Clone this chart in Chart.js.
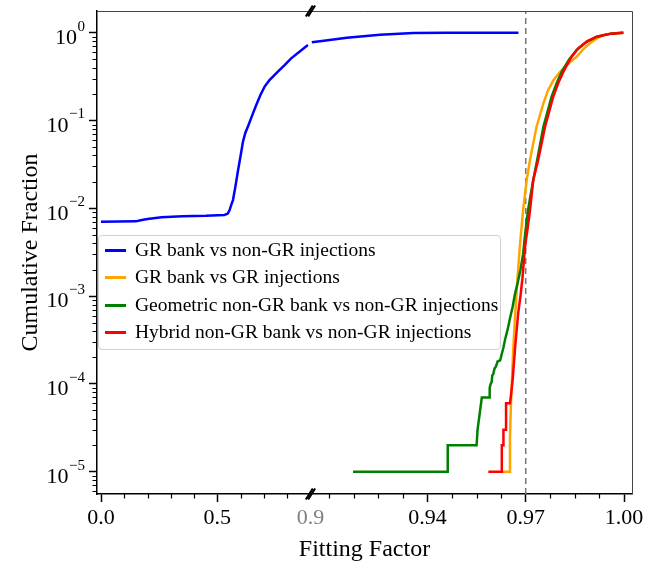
<!DOCTYPE html>
<html>
<head>
<meta charset="utf-8">
<script src="https://cdn.jsdelivr.net/npm/chart.js@4.4.1/dist/chart.umd.min.js"></script>
<style>
  html, body { margin: 0; padding: 0; background: #fff; }
  #wrap { position: relative; width: 659px; height: 565px; }
  #legend {
    position: absolute; left: 98px; top: 235px; width: 403px; height: 115px;
    box-sizing: border-box; border: 1px solid #cfcfcf; border-radius: 4px;
    background: rgba(255, 255, 255, 0.8);
    font-family: "Liberation Serif", "Times New Roman", serif; font-size: 19.5px; color: #000;
  }
  #legend .row { position: absolute; left: 0; height: 28px; line-height: 28px; white-space: nowrap; }
  #legend .swatch { position: absolute; left: 6px; top: 13px; width: 21px; height: 2.5px; }
  #legend .text { position: absolute; left: 36px; top: 0; }
</style>
</head>
<body>
<div id="wrap">
  <canvas id="chart" width="659" height="565"></canvas>
  <div id="legend"></div>
</div>
<script>
/* ── Data ── */
const SERIES_LABELS = [
  "GR bank vs non-GR injections",
  "GR bank vs GR injections",
  "Geometric non-GR bank vs non-GR injections",
  "Hybrid non-GR bank vs non-GR injections",
];

// GR bank vs non-GR injections (null = gap at the axis break)
const GR_NONGR_FF = [0, 0.15, 0.17, 0.2, 0.26, 0.35, 0.45, 0.53, 0.545, 0.553, 0.56, 0.567, 0.578, 0.589,
  0.6, 0.61, 0.62, 0.631, 0.65, 0.667, 0.685, 0.703, 0.724, 0.76, 0.79, 0.817, 0.85, 0.889,
  0.902, 0.9047, 0.9084, 0.9154, 0.9255, 0.9357, 0.9459, 0.955, 0.9678];
const GR_NONGR_CF = [0.00703, 0.0071, 0.0073, 0.00755, 0.0079, 0.0081, 0.0082, 0.0084, 0.0087, 0.0096, 0.011, 0.0124, 0.018, 0.0273,
  0.04, 0.0574, 0.072, 0.085, 0.115, 0.15, 0.195, 0.243, 0.289, 0.36, 0.43, 0.51, 0.6, 0.724,
  null, 0.778, 0.81, 0.877, 0.949, 0.99, 0.998, 1.0, 1.0];

// GR bank vs GR injections
const GR_GR_FF = [0.9627, 0.965, 0.9652, 0.9655, 0.9658, 0.9662, 0.9667, 0.9675, 0.9682, 0.9692, 0.9703, 0.9713,
  0.9733, 0.9754, 0.9768, 0.9784, 0.98, 0.9815, 0.9835, 0.9856, 0.9876, 0.9896, 0.9917, 0.9937, 0.996, 0.998, 0.9998];
const GR_GR_CF = [1e-5, 1e-5, 2.5e-5, 6e-5, 1.1e-4, 2.5e-4, 5.5e-4, 1.6e-3, 3.66e-3, 9.5e-3, 0.021, 0.0355,
  0.085, 0.157, 0.22, 0.285, 0.34, 0.393, 0.46, 0.533, 0.65, 0.757, 0.86, 0.94, 0.975, 0.993, 1.0];

// Geometric non-GR bank vs non-GR injections
const GEO_FF = [0.9173, 0.9462, 0.9462, 0.955, 0.9553, 0.9566, 0.9589, 0.959, 0.9593, 0.9596, 0.9598, 0.9601,
  0.9605, 0.9608, 0.9611, 0.9614, 0.9622, 0.9627, 0.9632, 0.9637, 0.9645, 0.9652, 0.966, 0.9667, 0.9676,
  0.9684, 0.9692, 0.9698, 0.9707, 0.9723, 0.9735, 0.9754, 0.9779, 0.9795, 0.981, 0.9833, 0.9856, 0.9885,
  0.9917, 0.996, 0.9998];
const GEO_CF = [1e-5, 1e-5, 2e-5, 2e-5, 3e-5, 7e-5, 7e-5, 9e-5, 1.0e-4, 1.05e-4, 1.25e-4, 1.3e-4,
  1.5e-4, 1.55e-4, 1.65e-4, 1.8e-4, 1.85e-4, 2.2e-4, 2.6e-4, 3.2e-4, 4.2e-4, 5.6e-4, 7.5e-4, 1.05e-3, 1.45e-3,
  2.0e-3, 3.0e-3, 5.0e-3, 9.5e-3, 0.021, 0.0355, 0.085, 0.187, 0.27, 0.36, 0.5, 0.635, 0.78,
  0.9, 0.975, 1.0];

// Hybrid non-GR bank vs non-GR injections
const HYB_FF = [0.9586, 0.9627, 0.9627, 0.9632, 0.9632, 0.964, 0.964, 0.9652, 0.9656, 0.966, 0.9668, 0.9677,
  0.9684, 0.969, 0.9698, 0.9706, 0.9713, 0.9723, 0.9738, 0.9759, 0.9784, 0.98, 0.9815, 0.9838, 0.986, 0.9888,
  0.9917, 0.996, 0.9998];
const HYB_CF = [1e-5, 1e-5, 2e-5, 2e-5, 3e-5, 3e-5, 6e-5, 6e-5, 8e-5, 1.1e-4, 2.7e-4, 6.4e-4,
  1.0e-3, 1.6e-3, 3.66e-3, 6e-3, 9.5e-3, 0.021, 0.0355, 0.085, 0.187, 0.27, 0.36, 0.52, 0.664, 0.8,
  0.9, 0.975, 1.0];

const THRESHOLD = 0.97;

const X_TICKS = [0.0, 0.5, 0.9, 0.94, 0.97, 1.0];
const X_TICK_LABELS = ["0.0", "0.5", "0.9", "0.94", "0.97", "1.00"];
const X_MINOR_TICKS = [0.1, 0.2, 0.3, 0.4, 0.6, 0.7, 0.8,
  0.91, 0.9175, 0.925, 0.9325, 0.9475, 0.955, 0.9625, 0.9775, 0.985, 0.9925];
const Y_EXPONENTS = [0, -1, -2, -3, -4, -5];

/* ── Axis limits / broken x axis ── */
const X_MIN = -0.0172, X_BREAK = 0.9, X_RESUME = 0.9043, X_MAX = 1.00244;
const BREAK_FRAC = 0.399;
const Y_MIN = 5.57e-6, Y_MAX = 1.766;

const FONT = '"Liberation Serif", "Times New Roman", serif';
const COLORS = { blue: "#0000ff", orange: "#ffa500", green: "#008000", red: "#ff0000", dash: "#777777" };

// linear scale with a gap: [X_MIN, X_BREAK] on the left, [X_RESUME, X_MAX] on the right
class BrokenLinearScale extends Chart.LinearScale {
  getPixelForValue(v) {
    if (v === null || v === undefined || isNaN(v)) return NaN;
    let f;
    if (v <= X_BREAK) f = (v - X_MIN) / (X_BREAK - X_MIN) * BREAK_FRAC;
    else if (v < X_RESUME) f = BREAK_FRAC;
    else f = BREAK_FRAC + (v - X_RESUME) / (X_MAX - X_RESUME) * (1 - BREAK_FRAC);
    return this.getPixelForDecimal(f);
  }
  getValueForPixel(p) {
    const f = this.getDecimalForPixel(p);
    if (f <= BREAK_FRAC) return X_MIN + f / BREAK_FRAC * (X_BREAK - X_MIN);
    return X_RESUME + (f - BREAK_FRAC) / (1 - BREAK_FRAC) * (X_MAX - X_RESUME);
  }
}
BrokenLinearScale.id = "brokenLinear";
BrokenLinearScale.defaults = Chart.LinearScale.defaults;
Chart.register(BrokenLinearScale);

const toPoints = (xs, ys) => xs.map((x, i) => ({ x: x, y: ys[i] }));

const lineDs = (label, xs, ys, color, order) => ({
  label: label,
  data: toPoints(xs, ys),
  borderColor: color,
  backgroundColor: color,
  borderWidth: 2.5,
  pointRadius: 0,
  tension: 0,
  spanGaps: false,
  order: order,
});

/* ── Extra drawing: minor ticks, frame, break marks, 10^n labels ── */
const decorations = {
  id: "decorations",
  afterDraw(chart) {
    const { ctx, chartArea: a } = chart;
    const xs = chart.scales.x, ys = chart.scales.y;
    ctx.save();

    // top / right spines
    ctx.strokeStyle = "#444";
    ctx.lineWidth = 1;
    ctx.beginPath();
    ctx.moveTo(a.left, a.top + 0.5); ctx.lineTo(a.right + 0.5, a.top + 0.5);
    ctx.lineTo(a.right + 0.5, a.bottom);
    ctx.stroke();

    // minor ticks
    ctx.strokeStyle = "#000";
    ctx.lineWidth = 1.2;
    ctx.beginPath();
    X_MINOR_TICKS.forEach((v) => {
      const px = Math.round(xs.getPixelForValue(v)) + 0.5;
      ctx.moveTo(px, a.bottom); ctx.lineTo(px, a.bottom + 4.5);
    });
    for (let e = -6; e <= 0; e++) {
      for (let m = 2; m <= 9; m++) {
        const v = m * Math.pow(10, e);
        if (v < Y_MIN || v > Y_MAX) continue;
        const py = Math.round(ys.getPixelForValue(v)) + 0.5;
        ctx.moveTo(a.left, py); ctx.lineTo(a.left - 4.5, py);
      }
    }
    ctx.stroke();

    // break marks on top and bottom spines
    const bx = xs.getPixelForValue(X_BREAK);
    ctx.lineWidth = 2;
    ctx.beginPath();
    [a.top, a.bottom].forEach((by) => {
      [-1.2, 1.2].forEach((off) => {
        ctx.moveTo(bx - 3.5 + off, by + 5.5);
        ctx.lineTo(bx + 3.5 + off, by - 5.5);
      });
    });
    ctx.stroke();

    // y tick labels 10^n
    ctx.fillStyle = "#000";
    ctx.textAlign = "left";
    ctx.textBaseline = "alphabetic";
    Y_EXPONENTS.forEach((e) => {
      const py = ys.getPixelForValue(Math.pow(10, e));
      const exp = e === 0 ? "0" : "\u2212" + (-e);
      ctx.font = "15px " + FONT;
      const we = ctx.measureText(exp).width;
      const right = a.left - 12;
      ctx.fillText(exp, right - we, py - 2);
      ctx.font = "22px " + FONT;
      const wb = ctx.measureText("10").width;
      ctx.fillText("10", right - we - wb - 0.5, py + 11.3);
    });

    ctx.restore();
  },
};

const chart = new Chart(document.getElementById("chart"), {
  type: "line",
  data: {
    datasets: [
      lineDs(SERIES_LABELS[0], GR_NONGR_FF, GR_NONGR_CF, COLORS.blue, 4),
      lineDs(SERIES_LABELS[1], GR_GR_FF, GR_GR_CF, COLORS.orange, 3),
      lineDs(SERIES_LABELS[2], GEO_FF, GEO_CF, COLORS.green, 2),
      lineDs(SERIES_LABELS[3], HYB_FF, HYB_CF, COLORS.red, 1),
      {
        label: "",
        data: [{ x: THRESHOLD, y: Y_MIN }, { x: THRESHOLD, y: Y_MAX }],
        borderColor: COLORS.dash,
        borderWidth: 1.5,
        borderDash: [6, 4],
        pointRadius: 0,
        order: 5,
        isHelper: true,
      },
    ],
  },
  options: {
    responsive: false,
    animation: false,
    devicePixelRatio: 1,
    layout: { padding: { top: 11, right: 27, left: 0, bottom: 0 } },
    plugins: { legend: { display: false }, tooltip: { enabled: false }, title: { display: false } },
    scales: {
      x: {
        type: "brokenLinear",
        min: X_MIN,
        max: X_MAX,
        afterBuildTicks: (s) => { s.ticks = X_TICKS.map((v) => ({ value: v })); },
        afterFit: (s) => { s.height = 71; },
        ticks: {
          autoSkip: false,
          maxRotation: 0,
          padding: 3,
          font: { family: FONT, size: 22 },
          color: (c) => (c.tick && c.tick.value === X_BREAK ? "#808080" : "#000"),
          callback: (v, i) => X_TICK_LABELS[i],
        },
        grid: {
          drawOnChartArea: false,
          drawTicks: true,
          tickLength: 8,
          tickWidth: 1.5,
          tickColor: (c) => (c.tick && c.tick.value === X_BREAK ? "rgba(0,0,0,0)" : "#000"),
        },
        border: { display: true, color: "#000", width: 1.5 },
        title: {
          display: true,
          text: "Fitting Factor",
          color: "#000",
          font: { family: FONT, size: 24 },
          padding: { top: 0, bottom: 1 },
        },
      },
      y: {
        type: "logarithmic",
        min: Y_MIN,
        max: Y_MAX,
        afterBuildTicks: (s) => { s.ticks = Y_EXPONENTS.map((e) => ({ value: Math.pow(10, e), major: true })); },
        afterFit: (s) => { s.width = 97; },
        ticks: { display: false },
        grid: { drawOnChartArea: false, drawTicks: true, tickLength: 8, tickWidth: 1.5, tickColor: "#000" },
        border: { display: true, color: "#000", width: 1.5 },
        title: {
          display: true,
          text: "Cumulative Fraction",
          color: "#000",
          font: { family: FONT, size: 24 },
          padding: { top: 16, bottom: 0 },
        },
      },
    },
  },
  plugins: [decorations],
});

/* ── Legend inside the axes, built from the datasets ── */
const legendEl = document.getElementById("legend");
const ROW_CENTERS = [14, 41.3, 69, 96.3];
chart.data.datasets.filter((d) => !d.isHelper).forEach((d, i) => {
  const row = document.createElement("div");
  row.className = "row";
  row.style.top = (ROW_CENTERS[i] - 14) + "px";
  const sw = document.createElement("span");
  sw.className = "swatch";
  sw.style.background = d.borderColor;
  const tx = document.createElement("span");
  tx.className = "text";
  tx.textContent = d.label;
  row.appendChild(sw);
  row.appendChild(tx);
  legendEl.appendChild(row);
});
</script>
</body>
</html>
